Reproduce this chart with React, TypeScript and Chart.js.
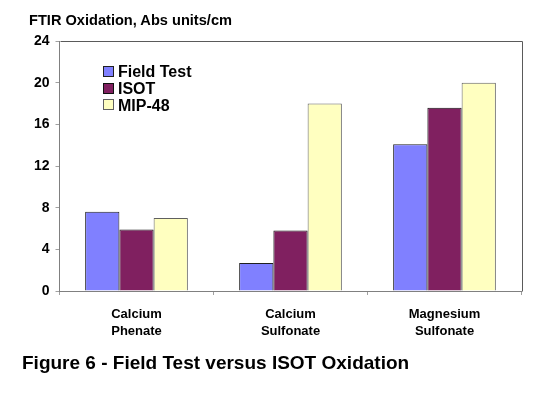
import React, { useEffect, useRef } from "react";
import { Chart, registerables } from "chart.js";

Chart.register(...registerables);

const categories: string[][] = [
  ["Calcium", "Phenate"],
  ["Calcium", "Sulfonate"],
  ["Magnesium", "Sulfonate"],
];
const seriesNames = ["Field Test", "ISOT", "MIP-48"];
const fieldTest = [7.6, 2.7, 14.1];
const isot = [5.9, 5.8, 17.6];
const mip48 = [7.0, 18.0, 20.0];
const yTicks = [0, 4, 8, 12, 16, 20, 24];

const FONT = '"Liberation Sans", Arial, Helvetica, sans-serif';

const frameAndLegend = {
  id: "frameAndLegend",
  afterDraw(chart: any) {
    const ctx = chart.ctx;
    const a = chart.chartArea;
    ctx.save();
    ctx.strokeStyle = "#5a5a5a";
    ctx.lineWidth = 1;
    ctx.beginPath();
    ctx.moveTo(Math.round(a.left) + 0.5, Math.round(a.top) + 0.5);
    ctx.lineTo(Math.round(a.right) + 0.5, Math.round(a.top) + 0.5);
    ctx.lineTo(Math.round(a.right) + 0.5, Math.round(a.bottom) + 0.5);
    ctx.stroke();

    chart.data.datasets.forEach((ds: any, i: number) => {
      const yc = 72 + i * 16.7;
      const x = 103;
      ctx.fillStyle = ds.backgroundColor;
      ctx.fillRect(x, Math.round(yc - 6), 11, 11);
      ctx.strokeStyle = ds.borderColor;
      ctx.strokeRect(x + 0.5, Math.round(yc - 6) + 0.5, 10, 10);
      ctx.fillStyle = "#000";
      ctx.font = `bold 16px ${FONT}`;
      ctx.textBaseline = "middle";
      ctx.textAlign = "left";
      ctx.fillText(ds.label, 118, yc + 1);
    });
    ctx.restore();
  },
};

export default function App() {
  const ref = useRef<HTMLCanvasElement>(null);

  useEffect(() => {
    if (!ref.current) return;
    const chart = new Chart(ref.current, {
      type: "bar",
      data: {
        labels: categories as any,
        datasets: [
          {
            label: seriesNames[0],
            data: fieldTest,
            backgroundColor: "#8080FF",
            borderColor: "#202020",
            borderWidth: 1,
          },
          {
            label: seriesNames[1],
            data: isot,
            backgroundColor: "#802060",
            borderColor: "#101010",
            borderWidth: 1,
          },
          {
            label: seriesNames[2],
            data: mip48,
            backgroundColor: "#FFFFC0",
            borderColor: "#606060",
            borderWidth: 1,
          },
        ],
      },
      options: {
        responsive: false,
        animation: false,
        devicePixelRatio: 1,
        layout: { padding: { top: 41, right: 28.5, left: 0, bottom: 0 } },
        datasets: {
          bar: { categoryPercentage: 0.667, barPercentage: 1.0 },
        },
        plugins: {
          legend: { display: false },
          tooltip: { enabled: false },
          title: { display: false },
        },
        scales: {
          x: {
            offset: true,
            grid: {
              display: true,
              offset: true,
              drawOnChartArea: false,
              drawTicks: true,
              tickLength: 4,
              color: "#a0a0a0",
            },
            border: { color: "#808080", width: 1 },
            ticks: {
              color: "#000",
              font: { family: FONT, size: 13, weight: "bold", lineHeight: "17px" as any },
              padding: 10.5,
              maxRotation: 0,
              autoSkip: false,
            },
            afterFit: (scale: any) => {
              scale.height = 104;
            },
          },
          y: {
            min: 0,
            max: 24,
            afterBuildTicks: (scale: any) => {
              scale.ticks = yTicks.map((v) => ({ value: v }));
            },
            grid: {
              display: true,
              drawOnChartArea: false,
              drawTicks: true,
              tickLength: 4,
              color: "#a0a0a0",
            },
            border: { color: "#808080", width: 1 },
            ticks: {
              color: "#000",
              font: { family: FONT, size: 14, weight: "bold" },
              padding: 6,
            },
            afterFit: (scale: any) => {
              scale.width = 59.5;
            },
          },
        },
      },
      plugins: [frameAndLegend],
    });
    return () => chart.destroy();
  }, []);

  return (
    <div
      style={{
        position: "absolute",
        left: 0,
        top: 0,
        width: 550,
        height: 395,
        background: "#fff",
        fontFamily: FONT,
      }}
    >
      <canvas ref={ref} width={550} height={395} style={{ position: "absolute", left: 0, top: 0 }} />
      <div
        style={{
          position: "absolute",
          left: 29,
          top: 13,
          fontSize: 14.6,
          lineHeight: "14.6px",
          fontWeight: "bold",
          color: "#000",
          whiteSpace: "nowrap",
        }}
      >
        FTIR Oxidation, Abs units/cm
      </div>
      <div
        style={{
          position: "absolute",
          left: 22,
          top: 353,
          fontSize: 19,
          lineHeight: "19px",
          fontWeight: "bold",
          color: "#000",
          whiteSpace: "nowrap",
        }}
      >
        Figure 6 - Field Test versus ISOT Oxidation
      </div>
    </div>
  );
}
